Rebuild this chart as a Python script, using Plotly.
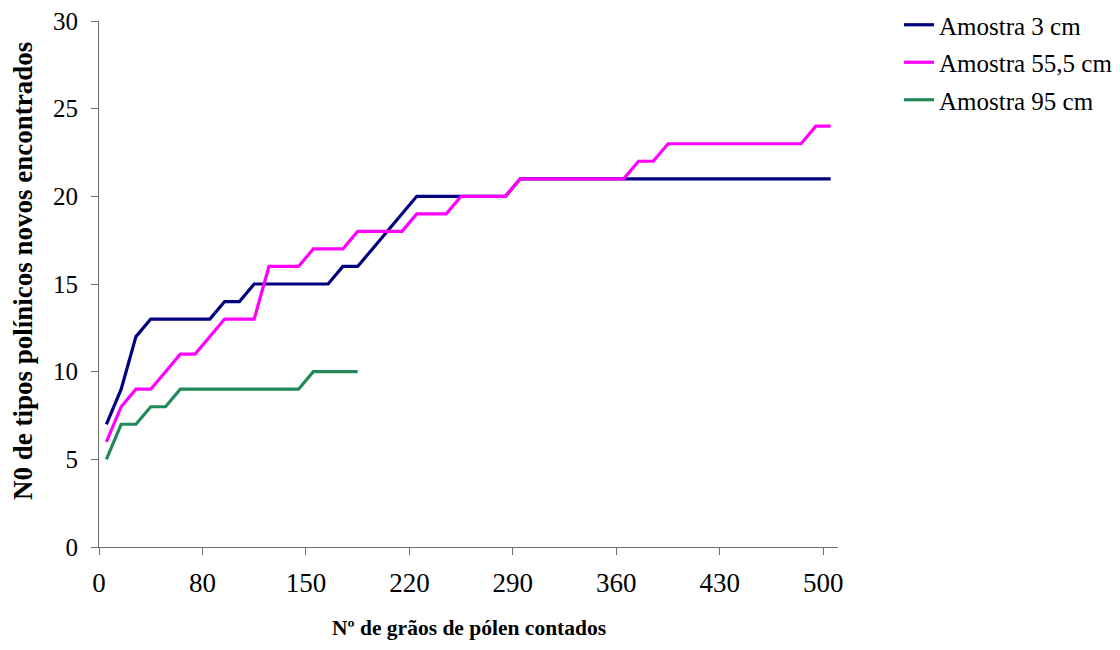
import plotly.graph_objects as go

# Nº de grãos de pólen contados (categories)
contagem = [10, 20, 30, 40, 50, 60, 70, 80, 90, 100,
            110, 120, 130, 140, 150, 160, 170, 180, 190, 200,
            210, 220, 230, 240, 250, 260, 270, 280, 290, 300,
            310, 320, 330, 340, 350, 360, 370, 380, 390, 400,
            410, 420, 430, 440, 450, 460, 470, 480, 490, 500]

amostra_3 = [7, 9, 12, 13, 13, 13, 13, 13, 14, 14,
             15, 15, 15, 15, 15, 15, 16, 16, 17, 18,
             19, 20, 20, 20, 20, 20, 20, 20, 21, 21,
             21, 21, 21, 21, 21, 21, 21, 21, 21, 21,
             21, 21, 21, 21, 21, 21, 21, 21, 21, 21]

amostra_55 = [6, 8, 9, 9, 10, 11, 11, 12, 13, 13,
              13, 16, 16, 16, 17, 17, 17, 18, 18, 18,
              18, 19, 19, 19, 20, 20, 20, 20, 21, 21,
              21, 21, 21, 21, 21, 21, 22, 22, 23, 23,
              23, 23, 23, 23, 23, 23, 23, 23, 24, 24]

amostra_95 = [5, 7, 7, 8, 8, 9, 9, 9, 9, 9,
              9, 9, 9, 9, 10, 10, 10, 10]

series_names = ["Amostra 3 cm", "Amostra 55,5 cm", "Amostra 95 cm"]
series_colors = ["#000080", "#FF00FF", "#21895A"]

tick_labels = ["0", "80", "150", "220", "290", "360", "430", "500"]
tick_positions = [5, 75, 145, 215, 285, 355, 425, 495]  # category boundaries

FONT = "Liberation Serif, Times New Roman, serif"

fig = go.Figure()
for name, ys, col in zip(series_names, [amostra_3, amostra_55, amostra_95], series_colors):
    fig.add_trace(go.Scatter(
        x=contagem[:len(ys)], y=ys, name=name, mode="lines",
        line=dict(color=col, width=3.2), legendgroup=name,
    ))

# page has an 8px body margin; figure sized to fit inside the 1120x650 window
fig.update_layout(
    width=1104, height=634,
    margin=dict(l=91, r=274, t=13, b=95, autoexpand=False),
    plot_bgcolor="white", paper_bgcolor="white",
    font=dict(family=FONT, color="black"),
    showlegend=True,
    legend=dict(
        x=(899 - 99) / 739, xanchor="left",
        y=(547 - 2) / 526, yanchor="top",
        font=dict(family=FONT, size=25, color="black"),
        tracegroupgap=2, traceorder="grouped",
        bgcolor="rgba(0,0,0,0)", itemwidth=30,
    ),
    xaxis=dict(
        range=[5, 505], showgrid=False, zeroline=False,
        showline=True, linecolor="#6e6e6e", linewidth=1,
        tickmode="array", tickvals=tick_positions, ticktext=tick_labels,
        ticks="outside", ticklen=7, tickcolor="#6e6e6e",
        tickfont=dict(family=FONT, size=27, color="black"),
        ticklabelstandoff=5, ticklabeloverflow="allow",
    ),
    yaxis=dict(
        range=[0, 30], showgrid=False, zeroline=False,
        showline=True, linecolor="#6e6e6e", linewidth=1,
        tickmode="linear", tick0=0, dtick=5,
        ticks="outside", ticklen=7, tickcolor="#6e6e6e",
        tickfont=dict(family=FONT, size=25, color="black"),
        ticklabelstandoff=8, ticklabeloverflow="allow",
    ),
    annotations=[
        dict(text="<b>Nº de grãos de pólen contados</b>", xref="paper", yref="paper",
             x=0.5, y=-(628 - 547) / 526, xanchor="center", yanchor="middle",
             showarrow=False, font=dict(family=FONT, size=21.5, color="black")),
        dict(text="<b>N0 de tipos polínicos novos encontrados</b>", xref="paper", yref="paper",
             x=-(99 - 23) / 739, y=(547 - 271) / 526, xanchor="center", yanchor="middle",
             textangle=-90, showarrow=False,
             font=dict(family=FONT, size=27, color="black")),
    ],
)

fig.write_html("out.html")
